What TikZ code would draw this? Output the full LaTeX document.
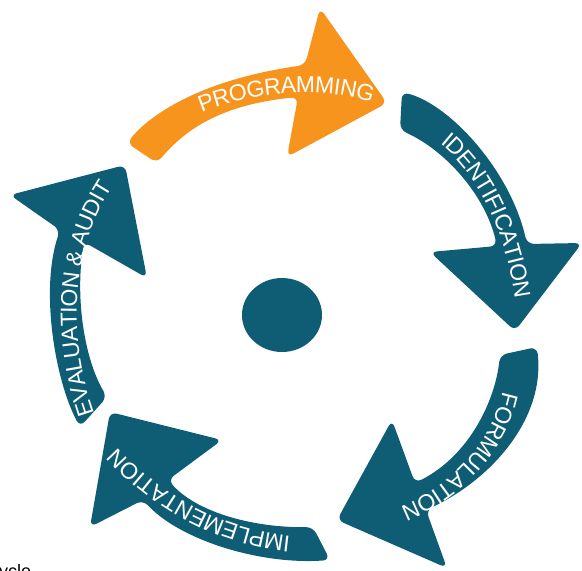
\documentclass[tikz,border=0pt]{standalone}
\usepackage{fontspec}
\setmainfont{Liberation Sans}
\usetikzlibrary{decorations.text,shapes.geometric}
\definecolor{orng}{RGB}{247,148,30}
\definecolor{tealc}{RGB}{14,93,116}
\begin{document}
\begin{tikzpicture}[x=1pt,y=-1pt,
  shapeteal/.style={fill=tealc, rounded corners=7pt},
  shapeorange/.style={fill=orng, rounded corners=7pt},
  lbl/.style={decorate, decoration={text along path, text align=center, raise=-8pt,
      text={|\color{white}\fontsize{23}{23}\selectfont|#1}}},
]
\useasboundingbox (0,0) rectangle (582,571);
\clip (0,0) rectangle (582,571);

% PROGRAMMING (orange)
\fill[shapeorange] (127,143) .. controls (150,115) and (200,80) .. (305,65)
  -- (320,8) -- (387,103) -- (287,157) -- (298,97)
  .. controls (220,105) and (185,130) .. (157,163) -- cycle;
\path[lbl={PROGRAMMING}] (188,110) .. controls (240,84) and (330,74) .. (385,100);

% IDENTIFICATION
\fill[shapeteal] (402,92) .. controls (450,105) and (510,170) .. (527,244)
  -- (582,243) -- (515,331) -- (430,252) -- (497,246)
  .. controls (485,195) and (445,150) .. (400,130) -- cycle;
\path[lbl={IDENTIFICATION}] (432,128) .. controls (480,158) and (515,222) .. (525,314);

% FORMULATION
\fill[shapeteal] (537,347) .. controls (545,420) and (490,480) .. (426,510)
  -- (447,568) -- (337,520) -- (392,420) -- (415,483)
  .. controls (470,455) and (495,400) .. (500,355) -- cycle;
\path[lbl={FORMULATION}] (512,385) .. controls (505,440) and (460,495) .. (395,517);

% IMPLEMENTATION
\fill[shapeteal] (330,560) .. controls (260,565) and (180,540) .. (143,500)
  -- (90,527) -- (110,412) -- (222,440) -- (168,480)
  .. controls (200,515) and (260,528) .. (313,527) -- cycle;
\path[lbl={IMPLEMENTATION}] (300,545) .. controls (230,540) and (160,510) .. (105,445);

% EVALUATION & AUDIT
\fill[shapeteal] (80,427) .. controls (55,380) and (40,290) .. (60,230)
  -- (10,195) -- (125,165) -- (147,278) -- (84,242)
  .. controls (75,300) and (85,360) .. (107,397) -- cycle;
\path[lbl={EVALUATION {\&} AUDIT}] (92,430) .. controls (60,350) and (55,250) .. (115,170);

% centre
\node (hub) [ellipse, fill=tealc, minimum width=80pt, minimum height=74pt, inner sep=0pt] at (282,315) {};

% cut-off caption
\node (cap) [anchor=base west, inner sep=0pt, font=\fontsize{18}{18}\selectfont] at (-1,577) {ycle};
\end{tikzpicture}
\end{document}
